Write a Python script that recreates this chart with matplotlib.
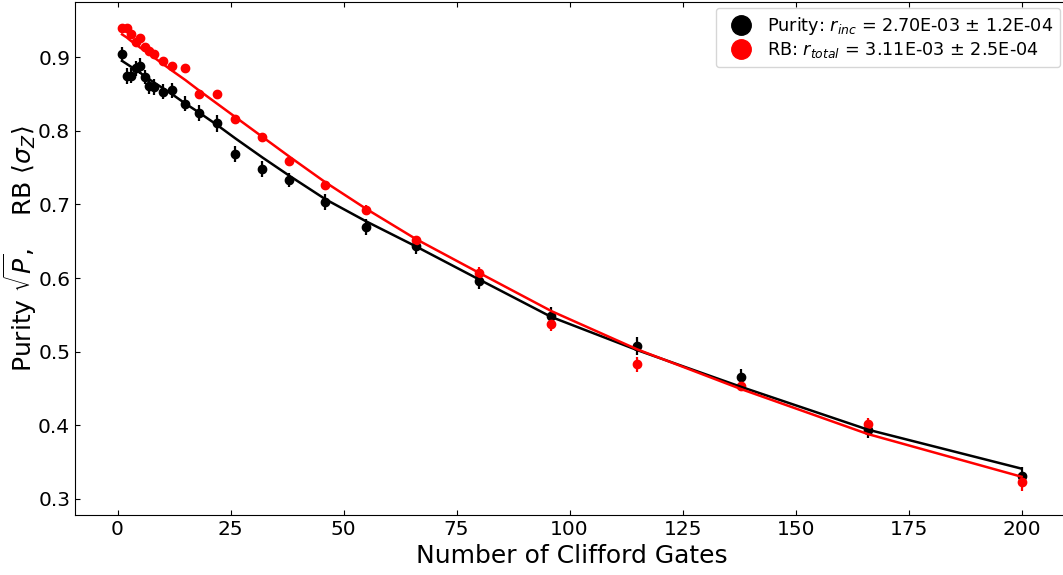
import numpy as np
import matplotlib.pyplot as plt

# Clifford sequence lengths
n_gates = [1, 2, 3, 4, 5, 6, 7, 8, 10, 12, 15, 18, 22, 26, 32, 38, 46, 55, 66,
           80, 96, 115, 138, 166, 200]

# Purity sqrt(P) measurements and fit
purity = [0.904, 0.874, 0.875, 0.885, 0.888, 0.873, 0.861, 0.859, 0.853, 0.855,
          0.837, 0.824, 0.810, 0.768, 0.748, 0.733, 0.703, 0.669, 0.644, 0.596,
          0.549, 0.508, 0.465, 0.394, 0.331]
purity_err = [0.010, 0.011, 0.010, 0.010, 0.011, 0.010, 0.011, 0.011, 0.010, 0.010,
              0.010, 0.011, 0.011, 0.011, 0.011, 0.010, 0.011, 0.011, 0.011, 0.011,
              0.012, 0.012, 0.012, 0.012, 0.012]
purity_fit = [0.895, 0.891, 0.887, 0.883, 0.879, 0.874, 0.870, 0.866, 0.858, 0.850,
              0.837, 0.825, 0.808, 0.790, 0.764, 0.739, 0.707, 0.677, 0.643, 0.598,
              0.547, 0.502, 0.452, 0.394, 0.341]

# RB <sigma_z> measurements and fit
rb = [0.940, 0.940, 0.931, 0.921, 0.926, 0.914, 0.908, 0.904, 0.895, 0.888,
      0.885, 0.850, 0.850, 0.816, 0.791, 0.759, 0.726, 0.692, 0.651, 0.607,
      0.538, 0.483, 0.453, 0.402, 0.323]
rb_err = [0.002, 0.002, 0.002, 0.002, 0.002, 0.002, 0.002, 0.002, 0.002, 0.002,
          0.002, 0.003, 0.003, 0.004, 0.004, 0.004, 0.006, 0.007, 0.006, 0.008,
          0.010, 0.010, 0.006, 0.008, 0.012]
rb_fit = [0.931, 0.927, 0.922, 0.918, 0.913, 0.909, 0.905, 0.900, 0.891, 0.882,
          0.869, 0.855, 0.837, 0.819, 0.792, 0.765, 0.730, 0.694, 0.653, 0.607,
          0.555, 0.503, 0.449, 0.388, 0.330]

r_inc, r_inc_err = 2.70e-3, 1.2e-4
r_tot, r_tot_err = 3.11e-3, 2.5e-4

fig = plt.figure(figsize=(10.63, 5.75), dpi=100)
# right spine sits just past the edge of the canvas
ax = fig.add_axes([0.0706, 0.1043, 0.9351, 0.8922])

ax.errorbar(n_gates, purity, yerr=purity_err, fmt='o', color='black',
            ms=6, elinewidth=1.6, capsize=0, zorder=2)
ax.plot(n_gates, purity_fit, color='black', lw=1.8, zorder=3)
ax.errorbar(n_gates, rb, yerr=rb_err, fmt='o', color='red',
            ms=6, elinewidth=1.6, capsize=0, zorder=2)
ax.plot(n_gates, rb_fit, color='red', lw=1.8, zorder=3)

# legend handles: plain markers
h1, = ax.plot([], [], 'o', color='black', ms=14,
              label=r'Purity: $r_{inc}$ = %.2E $\pm$ %.1E' % (r_inc, r_inc_err))
h2, = ax.plot([], [], 'o', color='red', ms=14,
              label=r'RB: $r_{total}$ = %.2E $\pm$ %.1E' % (r_tot, r_tot_err))
ax.legend(handles=[h1, h2], loc='upper right', fontsize=12.7,
          handletextpad=0.5, labelspacing=0.2, borderaxespad=0.5,
          bbox_to_anchor=(1.0, 1.006))

ax.set_xlim(-9.4, 210.5)
ax.set_ylim(0.278, 0.975)
ax.set_xticks([0, 25, 50, 75, 100, 125, 150, 175, 200])
ax.set_yticks([0.3, 0.4, 0.5, 0.6, 0.7, 0.8, 0.9])
ax.tick_params(direction='in', top=True, right=True, labelsize=14.5)

ax.set_xlabel('Number of Clifford Gates', fontsize=18)
ax.set_ylabel(r'Purity $\sqrt{P}$,    RB $\langle\sigma_Z\rangle$', fontsize=18)
ax.yaxis.set_label_coords(-0.036, 0.52)

fig.savefig('out.png', dpi=100)
